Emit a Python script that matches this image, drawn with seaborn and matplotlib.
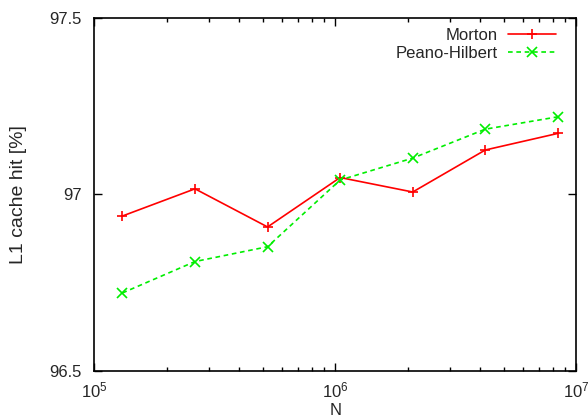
import matplotlib
matplotlib.use("Agg")
import matplotlib.pyplot as plt
import seaborn as sns
import numpy as np
import pandas as pd
from matplotlib.ticker import LogLocator, NullFormatter, FixedLocator, FixedFormatter

# Data
N = [131072, 262144, 524288, 1048576, 2097152, 4194304, 8388608]
morton = [96.939, 97.016, 96.908, 97.048, 97.007, 97.126, 97.173]
peano = [96.721, 96.810, 96.852, 97.041, 97.103, 97.185, 97.220]
series_names = ["Morton", "Peano-Hilbert"]
ytick_vals = [96.5, 97.0, 97.5]
ytick_labels = ["96.5", "97", "97.5"]
xtick_vals = [1e5, 1e6, 1e7]
xtick_labels = [r"$10^5$", r"$10^6$", r"$10^7$"]

sns.set_style("white")
plt.rcParams["font.family"] = ["Liberation Sans", "DejaVu Sans"]
plt.rcParams["mathtext.fontset"] = "custom"
plt.rcParams["mathtext.rm"] = "Liberation Sans"
plt.rcParams["mathtext.it"] = "Liberation Sans"

df = pd.DataFrame({
    "N": N * 2,
    "hit": morton + peano,
    "series": [series_names[0]] * len(N) + [series_names[1]] * len(N),
})

RED = "#ff0000"
GREEN = "#00ee00"

fig = plt.figure(figsize=(5.88, 4.19), dpi=100)
ax = fig.add_axes([0.160, 0.1146, 0.820, 0.8425])

sns.lineplot(data=df[df.series == series_names[0]], x="N", y="hit", ax=ax,
             color=RED, linestyle="-", marker="+", markersize=7.5,
             markeredgewidth=1.2, markeredgecolor=RED, markerfacecolor=RED,
             linewidth=1.2, label=series_names[0])
sns.lineplot(data=df[df.series == series_names[1]], x="N", y="hit", ax=ax,
             color=GREEN, linestyle=(0, (2.8, 2.2)), marker="x", markersize=6.5,
             markeredgewidth=1.2, markeredgecolor=GREEN, markerfacecolor=GREEN,
             linewidth=1.2, label=series_names[1])

ax.set_xscale("log")
ax.set_xlim(1e5, 1e7)
ax.set_ylim(96.5, 97.5)
ax.xaxis.set_major_locator(FixedLocator(xtick_vals))
ax.xaxis.set_major_formatter(FixedFormatter(xtick_labels))
ax.xaxis.set_minor_locator(LogLocator(base=10, subs=np.arange(2, 10)))
ax.xaxis.set_minor_formatter(NullFormatter())
ax.yaxis.set_major_locator(FixedLocator(ytick_vals))
ax.yaxis.set_major_formatter(FixedFormatter(ytick_labels))

ax.tick_params(which="both", direction="in", top=True, right=True, bottom=True, left=True,
               labelsize=12, color="black", width=1)
ax.tick_params(which="major", length=6)
ax.tick_params(axis="x", which="major", pad=7)
ax.tick_params(axis="y", which="major", pad=9)
ax.tick_params(which="minor", length=3)
for s in ax.spines.values():
    s.set_color("black")
    s.set_linewidth(1.2)

ax.set_xlabel("N", fontsize=12, labelpad=1.5)
ax.set_ylabel("L1 cache hit [%]", fontsize=14, labelpad=16)

leg = ax.legend(loc="upper right", bbox_to_anchor=(0.972, 0.99), frameon=False,
                markerfirst=False, fontsize=12, handlelength=2.9, borderaxespad=0.0,
                labelspacing=0.15, handletextpad=0.6)

fig.savefig("out.png", dpi=100)
